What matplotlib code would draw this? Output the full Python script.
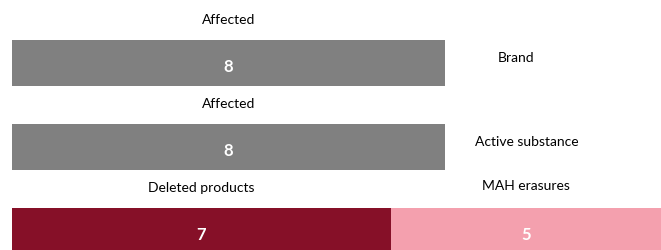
import matplotlib.pyplot as plt
import numpy as np

plt.rcParams['font.family'] = ['Lato', 'DejaVu Sans']

# Data
rows = ["Brand", "Active substance", "Removal"]
first_labels = ["Affected", "Affected", "Deleted products"]
first_values = [8, 8, 7]
second_labels = [None, None, "MAH erasures"]
second_values = [0, 0, 5]
side_labels = ["Brand", "Active substance", None]
side_x = [9.32, 9.52, None]

grey = "#808080"
dark_red = "#861028"
pink = "#F4A0AE"
first_colors = [grey, grey, dark_red]

fig = plt.figure(figsize=(6.61, 2.51), dpi=100)
ax = fig.add_axes([0, 0, 1, 1])

y = np.arange(len(rows))
bar_h = 0.55
label_off = 0.52

ax.barh(y, first_values, height=bar_h, color=first_colors)
ax.barh(y, second_values, left=first_values, height=bar_h, color=pink)

for i in y:
    # first segment
    cx = first_values[i] / 2
    ax.text(cx, i + 0.03, str(first_values[i]), ha="center", va="center",
            color="white", fontsize=12, fontweight="bold")
    ax.text(cx, i - label_off, first_labels[i], ha="center", va="center",
            color="black", fontsize=10)
    # second segment
    if second_values[i] > 0:
        cx2 = first_values[i] + second_values[i] / 2
        ax.text(cx2, i + 0.03, str(second_values[i]), ha="center", va="center",
                color="white", fontsize=12, fontweight="bold")
        ax.text(cx2, i - label_off - 0.03, second_labels[i], ha="center",
                va="center", color="black", fontsize=10)
    if side_labels[i]:
        ax.text(side_x[i], i - 0.07, side_labels[i], ha="center", va="center",
                color="black", fontsize=10)

ax.set_xlim(-0.22, 12)
ax.set_ylim(2.226, -0.762)
ax.axis("off")

fig.savefig("out.png", dpi=100)
